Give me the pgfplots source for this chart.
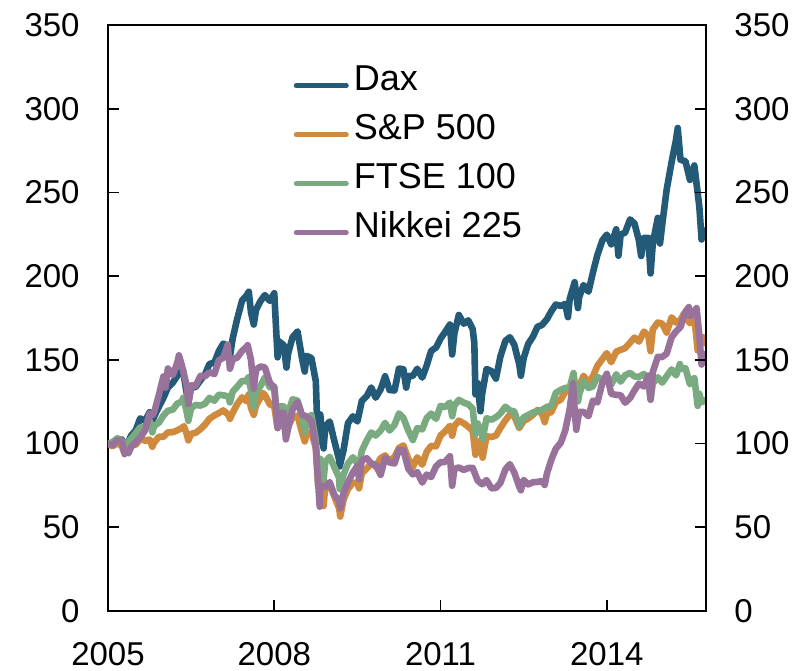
\documentclass[border=0pt]{standalone}
\usepackage{fontspec}
\setmainfont{Liberation Sans}
\usepackage{pgfplots}
\pgfplotsset{compat=1.18}
\usetikzlibrary{calc}

\definecolor{daxc}{RGB}{34,90,120}
\definecolor{spc}{RGB}{208,138,62}
\definecolor{ftsec}{RGB}{122,170,128}
\definecolor{nikc}{RGB}{152,114,154}

\pgfplotsset{
  common/.style={
    scale only axis, width=299pt, height=293pt,
    xmin=2005, xmax=2015.79, ymin=0, ymax=350,
    ytick={0,50,...,350},
    tick align=inside, major tick length=5.5pt,
    tick style={black, line width=0.9pt},
    axis line style={line width=1pt},
    /pgf/number format/assume math mode=true,
    /pgf/number format/1000 sep={},
    tick label style={font=\fontsize{16.5}{18}\selectfont, inner sep=0pt},
    yticklabel shift=14pt,
  },
}

\begin{document}
\begin{tikzpicture}
\begin{axis}[
  common,
  xtick={2005,2008,2011,2014},
  xtick pos=bottom,
  ytick pos=left,
  xticklabel shift=15.5pt,
  every axis plot/.append style={line width=3.3pt, line join=round},
  legend style={draw=none, fill=none, at={(0.310,0.914)}, anchor=north west,
    font=\fontsize{18}{20}\selectfont, row sep=14.5pt, column sep=2.5pt,
    inner sep=0pt, nodes={inner sep=0pt, text height=0.75em, text depth=0.25em}},
  legend cell align=left,
  legend image code/.code={\draw[#1, line width=2.5pt, line cap=round] (0pt,0pt) -- (25pt,0pt);},
]
\coordinate (ll) at (rel axis cs:0,0);
\coordinate (ur) at (rel axis cs:1,1);

% Dax
\addplot[daxc] coordinates {
(2005.00,100) (2005.08,100.1) (2005.17,102.4) (2005.25,102.4) (2005.29,97.6) (2005.33,98.5)
(2005.42,104.9) (2005.50,107.9) (2005.58,115.0) (2005.67,113.6) (2005.75,118.7) (2005.80,113.5)
(2005.83,116.0) (2005.92,122.2) (2006.00,127.2) (2006.08,133.5) (2006.17,136.4) (2006.25,140.5)
(2006.35,144.5) (2006.40,134) (2006.45,124.5) (2006.50,133.7) (2006.58,133.7) (2006.67,137.9)
(2006.75,141.3) (2006.83,147.5) (2006.92,148.4) (2007.00,155.2) (2007.08,159.7) (2007.17,158.0)
(2007.20,151.8) (2007.25,162.8) (2007.33,174.3) (2007.42,185.5) (2007.50,188.4) (2007.54,190.7)
(2007.58,178.4) (2007.63,171.1) (2007.67,179.7) (2007.75,185.0) (2007.83,188.7) (2007.92,185.2)
(2008.00,189.8) (2008.06,151.5) (2008.08,161.2) (2008.17,158.8) (2008.22,145.4) (2008.25,153.8)
(2008.33,163.5) (2008.42,167.0) (2008.50,151.0) (2008.55,143.0) (2008.58,152.4) (2008.67,151.1)
(2008.75,137.2) (2008.78,106.9) (2008.82,101.0) (2008.83,117.4) (2008.89,97.1) (2008.92,109.9)
(2009.00,113.2) (2009.08,102.1) (2009.17,90.4) (2009.18,86.3) (2009.25,96.1) (2009.33,112.2)
(2009.42,116.3) (2009.50,113.2) (2009.58,125.5) (2009.67,128.4) (2009.75,133.5) (2009.83,127.4)
(2009.92,132.4) (2010.00,140.2) (2010.08,132.0) (2010.17,131.7) (2010.25,144.8) (2010.33,144.4)
(2010.38,133.4) (2010.42,140.3) (2010.50,140.4) (2010.58,144.7) (2010.67,139.4) (2010.75,146.6)
(2010.83,155.3) (2010.92,157.4) (2011.00,162.7) (2011.08,166.5) (2011.17,171.1) (2011.21,153.2)
(2011.25,165.7) (2011.33,176.8) (2011.42,171.6) (2011.50,173.6) (2011.58,168.4) (2011.61,160.0)
(2011.63,129.4) (2011.67,136.1) (2011.72,119.3) (2011.75,129.5) (2011.83,144.5) (2011.92,143.3)
(2012.00,138.8) (2012.08,152.0) (2012.17,161.3) (2012.25,163.5) (2012.33,159.1) (2012.42,147.4)
(2012.45,140.5) (2012.50,151.0) (2012.58,159.4) (2012.67,164.0) (2012.75,169.8) (2012.83,170.8)
(2012.92,174.3) (2013.00,179.1) (2013.08,183.0) (2013.17,182.2) (2013.25,183.4) (2013.30,175.5)
(2013.33,186.2) (2013.42,196.4) (2013.48,180.9) (2013.50,187.3) (2013.58,194.7) (2013.67,190.7)
(2013.75,202.2) (2013.83,212.6) (2013.92,221.3) (2014.00,224.8) (2014.08,219.0) (2014.17,228.0)
(2014.21,212.2) (2014.25,224.8) (2014.33,226.0) (2014.42,233.9) (2014.50,231.4) (2014.58,221.3)
(2014.62,212.0) (2014.67,222.8) (2014.75,222.9) (2014.79,201.6) (2014.83,219.5) (2014.92,234.8)
(2014.96,219.5) (2015.00,230.7) (2015.08,251.6) (2015.17,268.3) (2015.25,281.6) (2015.28,288.5)
(2015.33,269.5) (2015.42,268.6) (2015.50,257.5) (2015.58,266.1) (2015.67,241.4) (2015.71,221.9)
(2015.75,227.3) (2015.79,222.0)
};
\addlegendentry{Dax}

% S&P 500
\addplot[spc] coordinates {
(2005.00,100) (2005.08,98.4) (2005.17,100.3) (2005.25,98.4) (2005.29,94.8) (2005.33,96.4)
(2005.42,99.3) (2005.50,99.3) (2005.58,102.8) (2005.67,101.7) (2005.75,102.4) (2005.80,98.1)
(2005.83,100.6) (2005.92,104.1) (2006.00,104.0) (2006.08,106.7) (2006.17,106.8) (2006.25,107.9)
(2006.33,109.3) (2006.37,110.4) (2006.42,105.8) (2006.45,101.9) (2006.50,105.8) (2006.58,106.4)
(2006.67,108.7) (2006.75,111.3) (2006.83,114.8) (2006.92,116.8) (2007.00,118.2) (2007.08,119.8)
(2007.17,117.3) (2007.20,114.8) (2007.25,118.4) (2007.33,123.5) (2007.42,127.6) (2007.50,125.3)
(2007.54,129.4) (2007.58,121.3) (2007.63,117.2) (2007.67,122.8) (2007.75,127.3) (2007.78,130.4)
(2007.83,129.1) (2007.92,123.4) (2008.00,122.3) (2008.06,109.2) (2008.08,114.9) (2008.17,110.9)
(2008.21,106.1) (2008.25,110.3) (2008.33,115.5) (2008.42,116.7) (2008.50,106.7) (2008.55,101.3)
(2008.58,105.6) (2008.67,106.9) (2008.75,97.2) (2008.79,74.9) (2008.83,80.8) (2008.89,62.7)
(2008.92,74.7) (2009.00,75.3) (2009.08,68.8) (2009.17,61.3) (2009.19,56.4) (2009.25,66.5)
(2009.33,72.8) (2009.42,76.6) (2009.50,76.6) (2009.53,73.3) (2009.58,82.3) (2009.67,85.1)
(2009.75,88.1) (2009.83,86.3) (2009.92,91.3) (2010.00,92.9) (2010.08,89.5) (2010.17,92.0)
(2010.25,97.4) (2010.33,98.9) (2010.42,90.8) (2010.50,85.9) (2010.58,91.8) (2010.67,87.4)
(2010.75,95.1) (2010.83,98.6) (2010.92,98.4) (2011.00,104.8) (2011.08,107.2) (2011.17,110.6)
(2011.21,104.7) (2011.25,110.5) (2011.33,113.7) (2011.42,112.1) (2011.50,110.1) (2011.58,107.7)
(2011.63,93.3) (2011.67,101.6) (2011.75,94.3) (2011.76,91.6) (2011.83,104.4) (2011.92,103.9)
(2012.00,104.8) (2012.08,109.3) (2012.17,113.8) (2012.25,117.3) (2012.33,116.5) (2012.42,109.2)
(2012.50,113.5) (2012.58,114.9) (2012.67,117.3) (2012.75,120.1) (2012.83,117.7) (2012.88,112.8)
(2012.92,118.0) (2013.00,118.8) (2013.08,124.8) (2013.17,126.3) (2013.25,130.8) (2013.33,133.2)
(2013.42,135.9) (2013.48,131.1) (2013.50,133.8) (2013.58,140.5) (2013.67,136.1) (2013.75,140.2)
(2013.83,146.4) (2013.92,150.5) (2014.00,154.0) (2014.08,148.6) (2014.17,154.9) (2014.25,156.0)
(2014.33,157.0) (2014.42,160.3) (2014.50,163.3) (2014.58,160.9) (2014.67,166.9) (2014.75,164.3)
(2014.79,155.2) (2014.83,168.2) (2014.92,172.3) (2015.00,171.6) (2015.08,166.3) (2015.17,175.4)
(2015.25,172.3) (2015.33,173.8) (2015.39,177.6) (2015.42,175.6) (2015.50,171.9) (2015.58,175.3)
(2015.64,155.6) (2015.67,164.3) (2015.75,160.0) (2015.79,165.0)
};
\addlegendentry{S\&P 500}

% FTSE 100
\addplot[ftsec] coordinates {
(2005.00,100) (2005.08,100.8) (2005.17,103.2) (2005.25,101.6) (2005.30,99.3) (2005.33,99.7)
(2005.42,103.1) (2005.50,106.2) (2005.58,109.7) (2005.67,110.0) (2005.75,113.8) (2005.80,106.7)
(2005.83,110.4) (2005.92,112.6) (2006.00,116.7) (2006.08,119.6) (2006.17,120.3) (2006.25,123.9)
(2006.33,125.1) (2006.36,127.4) (2006.42,118.9) (2006.45,113.6) (2006.50,121.1) (2006.58,123.1)
(2006.67,122.7) (2006.75,123.8) (2006.83,127.3) (2006.92,125.6) (2007.00,129.2) (2007.08,128.8)
(2007.17,128.2) (2007.20,124.6) (2007.25,131.0) (2007.33,133.9) (2007.42,137.5) (2007.50,137.2)
(2007.53,139.5) (2007.58,132.1) (2007.63,121.7) (2007.67,130.9) (2007.75,134.3) (2007.83,139.6)
(2007.92,133.6) (2008.00,134.1) (2008.06,112.0) (2008.08,122.1) (2008.17,122.2) (2008.21,112.4)
(2008.25,118.4) (2008.33,126.4) (2008.42,125.7) (2008.50,116.8) (2008.55,107.0) (2008.58,112.4)
(2008.67,117.1) (2008.75,101.8) (2008.79,81.7) (2008.83,90.9) (2008.89,78.5) (2008.92,89.1)
(2009.00,92.1) (2009.08,86.2) (2009.17,79.5) (2009.18,72.9) (2009.25,81.5) (2009.33,88.1)
(2009.42,91.8) (2009.50,88.2) (2009.53,85.7) (2009.58,95.7) (2009.67,102.0) (2009.75,106.6)
(2009.83,104.8) (2009.92,107.8) (2010.00,112.4) (2010.08,107.8) (2010.17,111.2) (2010.25,118.0)
(2010.33,115.3) (2010.42,107.7) (2010.50,102.1) (2010.58,109.2) (2010.67,108.5) (2010.75,115.2)
(2010.83,117.9) (2010.92,114.8) (2011.00,122.5) (2011.08,121.8) (2011.17,124.5) (2011.21,116.3)
(2011.25,122.7) (2011.33,126.1) (2011.42,124.4) (2011.50,123.5) (2011.58,120.8) (2011.63,105.3)
(2011.67,112.0) (2011.75,106.5) (2011.76,102.7) (2011.83,115.1) (2011.92,114.3) (2012.00,115.7)
(2012.08,118.0) (2012.17,122.0) (2012.25,119.8) (2012.33,119.2) (2012.42,110.5) (2012.50,115.7)
(2012.58,117.0) (2012.67,118.6) (2012.75,119.3) (2012.83,120.1) (2012.92,121.9) (2013.00,122.5)
(2013.08,130.3) (2013.17,132.1) (2013.25,133.2) (2013.33,133.5) (2013.40,142.1) (2013.42,136.7)
(2013.48,125.2) (2013.50,129.1) (2013.58,137.5) (2013.67,133.2) (2013.75,134.2) (2013.83,139.8)
(2013.92,138.1) (2014.00,140.2) (2014.08,135.2) (2014.17,141.4) (2014.25,137.0) (2014.33,140.8)
(2014.42,142.2) (2014.50,140.1) (2014.58,139.8) (2014.67,141.6) (2014.75,137.5) (2014.79,126.1)
(2014.83,135.9) (2014.92,139.6) (2015.00,136.4) (2015.08,140.2) (2015.17,144.3) (2015.25,140.7)
(2015.32,147.5) (2015.33,144.6) (2015.42,145.0) (2015.50,135.4) (2015.58,139.1) (2015.64,122.5)
(2015.67,129.8) (2015.71,124.6) (2015.75,125.9) (2015.79,124.0)
};
\addlegendentry{FTSE 100}

% Nikkei 225
\addplot[nikc] coordinates {
(2005.00,100) (2005.08,99.0) (2005.17,102.1) (2005.25,101.5) (2005.30,93.7) (2005.33,95.7)
(2005.37,94.2) (2005.42,98.1) (2005.50,100.7) (2005.58,103.5) (2005.67,107.9) (2005.75,118.0)
(2005.80,117.0) (2005.83,118.3) (2005.92,129.3) (2006.00,140.1) (2006.04,133.4) (2006.08,144.8)
(2006.17,140.9) (2006.25,148.3) (2006.28,152.7) (2006.33,147.0) (2006.42,134.5) (2006.45,123.6)
(2006.50,134.8) (2006.58,134.4) (2006.67,140.4) (2006.75,140.2) (2006.83,142.6) (2006.92,141.5)
(2007.00,149.8) (2007.08,151.2) (2007.16,159.1) (2007.20,144.7) (2007.25,150.3) (2007.33,151.3)
(2007.42,155.4) (2007.50,157.7) (2007.52,158.8) (2007.58,150.0) (2007.63,132.8) (2007.67,144.1)
(2007.75,146.0) (2007.83,145.5) (2007.92,136.4) (2008.00,133.1) (2008.06,109.3) (2008.08,118.2)
(2008.17,118.3) (2008.21,102.5) (2008.25,108.9) (2008.33,120.4) (2008.42,124.7) (2008.50,117.2)
(2008.58,116.3) (2008.67,113.7) (2008.75,97.9) (2008.82,62.3) (2008.83,74.6) (2008.92,74.0)
(2009.00,77.0) (2009.08,69.5) (2009.17,65.8) (2009.19,61.3) (2009.25,70.5) (2009.33,76.8)
(2009.42,82.8) (2009.50,86.6) (2009.53,78.7) (2009.58,90.1) (2009.67,91.2) (2009.75,88.1)
(2009.83,87.3) (2009.92,81.3) (2010.00,91.7) (2010.08,88.7) (2010.17,88.1) (2010.25,96.4)
(2010.33,96.1) (2010.42,84.9) (2010.50,81.6) (2010.58,82.9) (2010.67,76.7) (2010.75,81.5)
(2010.83,80.0) (2010.92,86.4) (2011.00,88.9) (2011.08,89.0) (2011.17,92.4) (2011.21,74.8)
(2011.25,84.8) (2011.33,85.7) (2011.42,84.3) (2011.50,85.4) (2011.58,85.5) (2011.67,77.9)
(2011.75,75.7) (2011.83,78.2) (2011.92,73.3) (2012.00,73.5) (2012.08,76.5) (2012.17,84.5)
(2012.25,87.7) (2012.33,82.8) (2012.42,74.3) (2012.45,72.1) (2012.50,78.3) (2012.58,75.6)
(2012.67,76.9) (2012.75,77.1) (2012.83,77.6) (2012.88,75.3) (2012.92,82.1) (2013.00,90.4)
(2013.08,96.9) (2013.17,100.5) (2013.25,107.8) (2013.33,120.5) (2013.39,135.9) (2013.42,119.8)
(2013.45,108.2) (2013.50,118.9) (2013.58,118.9) (2013.67,116.4) (2013.75,125.7) (2013.83,124.6)
(2013.92,136.2) (2014.00,141.7) (2014.08,129.7) (2014.17,129.1) (2014.25,128.9) (2014.33,124.4)
(2014.42,127.2) (2014.50,131.8) (2014.58,135.8) (2014.67,134.1) (2014.75,140.6) (2014.79,126.4)
(2014.83,142.7) (2014.92,151.8) (2015.00,151.7) (2015.08,153.7) (2015.17,163.5) (2015.25,167.0)
(2015.33,169.7) (2015.42,178.8) (2015.48,181.5) (2015.50,176.0) (2015.58,179.0) (2015.62,180.9)
(2015.67,164.3) (2015.71,147.2) (2015.75,151.2) (2015.79,155.0)
};
\addlegendentry{Nikkei 225}
\end{axis}

% right-hand y labels
\begin{axis}[
  common,
  hide x axis,
  axis y line*=right,
]
\end{axis}

\pgfresetboundingbox
\useasboundingbox ($(ll)+(-54pt,-30pt)$) rectangle ($(ur)+(47pt,12.5pt)$);
\end{tikzpicture}
\end{document}
